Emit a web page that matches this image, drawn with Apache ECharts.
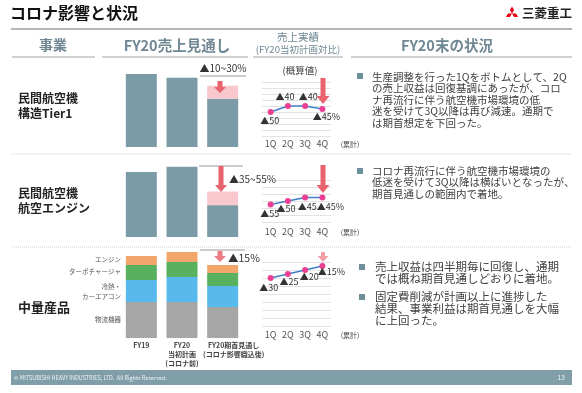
<!DOCTYPE html>
<html><head><meta charset="utf-8">
<script src="https://cdn.jsdelivr.net/npm/echarts@6/dist/echarts.min.js"></script>
<style>html,body{margin:0;padding:0;background:#fff}#c{width:582px;height:393px}</style>
</head><body><div id="c"></div>
<script>
// ---- data ----
const barCategories = ['FY19', 'FY20\n当初計画\n(コロナ前)', 'FY20期首見通し\n(コロナ影響織込後)'];
const tier1Bars = [100, 95, 66];      // index, FY19 = 100 ; FY20 outlook lower bound
const tier1Upper = 84;                // FY20 outlook upper bound
const engineBars = [100, 108, 49];
const engineUpper = 70;
const midLogistics = [36, 36, 31];
const midCooling = [22, 25, 21];
const midTurbo = [15, 15, 13];
const midEngine = [9, 10, 8];
const quarters = ['1Q', '2Q', '3Q', '4Q'];
const tier1Q = [-50, -40, -40, -45];
const engineQ = [-55, -50, -45, -45];
const midQ = [-30, -25, -20, -15];
const rangeTexts = ['▲10~30%', '▲35~55%', '▲15%'];

const F = '"Noto Sans CJK JP", "Noto Sans", sans-serif';
const HEAD = '#6f8793';
const BAR = '#7b9ca6', PINK = '#f8c8ce', RED = '#e9636e';

const chart = echarts.init(document.getElementById('c'), null, {renderer: 'canvas'});

function txt(t, x, y, size, color, opts) {
  opts = opts || {};
  return {type: 'text', silent: true, z: 10, style: {
    text: t, x: x, y: y, fill: color, font: (opts.bold ? 'bold ' : '') + size + 'px ' + F,
    textAlign: opts.align || 'left', align: opts.align || 'left',
    textVerticalAlign: 'middle', verticalAlign: 'middle'}};
}
function hline(x1, x2, y, color, w, dash) {
  return {type: 'line', silent: true, shape: {x1: x1, y1: y, x2: x2, y2: y},
    style: {stroke: color, lineWidth: w || 1, lineDash: dash || null}};
}
function arrow(x, y1, tip, sw, hw, hh, color) {
  const s = y1, b = tip - hh;
  return {type: 'polygon', silent: true, z: 20, shape: {points: [
    [x - sw / 2, s], [x + sw / 2, s], [x + sw / 2, b], [x + hw / 2, b], [x, tip],
    [x - hw / 2, b], [x - sw / 2, b]]}, style: {fill: color}};
}
function rhombus(cx, cy, dx, dy, L, w) {
  const px = -dy, py = dx;
  return {type: 'polygon', silent: true, shape: {points: [
    [cx, cy], [cx + dx * L / 2 + px * w / 2, cy + dy * L / 2 + py * w / 2],
    [cx + dx * L, cy + dy * L], [cx + dx * L / 2 - px * w / 2, cy + dy * L / 2 - py * w / 2]]},
    style: {fill: '#e60012'}};
}

const g = [];
// title
g.push(txt('コロナ影響と状況', 10, 13, 16, '#111', {bold: true}));
g.push(rhombus(512, 13.5, 0, -1, 7, 4.2));
g.push(rhombus(512, 13.5, -0.866, 0.5, 7, 4.2));
g.push(rhombus(512, 13.5, 0.866, 0.5, 7, 4.2));
g.push(txt('三菱重工', 522, 13.5, 12.5, '#222', {bold: true}));
g.push(hline(11, 572, 29, '#b5b5b5', 2));
// headers
g.push(txt('事業', 53, 45, 14, HEAD, {bold: true, align: 'center'}));
g.push(txt('FY20売上見通し', 177, 45, 14.5, HEAD, {bold: true, align: 'center'}));
g.push(txt('売上実績', 298, 37, 10.5, HEAD, {align: 'center'}));
g.push(txt('(FY20当初計画対比)', 298, 49, 9.5, HEAD, {align: 'center'}));
g.push(txt('FY20末の状況', 447, 45, 14.5, HEAD, {bold: true, align: 'center'}));
g.push(hline(12, 95, 57, '#cdd2d5', 2));
g.push(hline(102, 248, 57, '#cdd2d5', 2));
g.push(hline(253, 343, 57, '#cdd2d5', 2));
g.push(hline(351, 572, 57, '#cdd2d5', 2));
// row separators
g.push(hline(12, 572, 154, '#cfcfcf', 1, [1, 1]));
g.push(hline(12, 572, 247, '#cfcfcf', 1, [1, 1]));
// business labels
g.push(txt('民間航空機', 18, 98, 12, '#222', {bold: true}));
g.push(txt('構造Tier1', 18, 113, 12, '#222', {bold: true}));
g.push(txt('民間航空機', 18, 193, 12, '#222', {bold: true}));
g.push(txt('航空エンジン', 18, 208, 12, '#222', {bold: true}));
g.push(txt('中量産品', 18, 307, 13, '#222', {bold: true}));
// stack labels
g.push(txt('エンジン', 121, 260, 6.5, '#555', {align: 'right'}));
g.push(txt('ターボチャージャ', 121, 272, 6.5, '#555', {align: 'right'}));
g.push(txt('冷熱・', 121, 287, 6.5, '#555', {align: 'right'}));
g.push(txt('カーエアコン', 121, 297, 6.5, '#555', {align: 'right'}));
g.push(txt('物流機器', 121, 320, 6.5, '#555', {align: 'right'}));
// range annotations
g.push(hline(200, 246, 76, '#9a9a9a', 1));
g.push(txt(rangeTexts[0], 223, 68, 10, '#333', {align: 'center'}));
g.push(hline(199, 243, 166, '#9a9a9a', 1));
g.push(txt(rangeTexts[1], 229, 179, 10, '#333'));
g.push(hline(200, 245, 250, '#9a9a9a', 1));
g.push(txt(rangeTexts[2], 228, 258, 10.5, '#333'));
g.push(arrow(220, 81, 93, 5, 12, 6, RED));
g.push(arrow(221, 166, 192, 5, 12, 7, RED));
g.push(arrow(220, 251, 262, 5, 12, 6, '#ec7b83'));
g.push(arrow(323, 78, 104, 5, 13, 8, RED));
g.push(arrow(323, 165, 193, 5, 13, 8, RED));
g.push(arrow(323, 252, 262, 4, 11, 6, '#f2a0a6'));
// line chart notes
g.push(txt('(概算値)', 300, 70, 9.5, '#444', {align: 'center'}));
[144, 232, 335].forEach(y => g.push(txt('(累計)', 350, y, 7, '#444', {align: 'center'})));
// right side texts
function bullet(x, y) { return {type: 'rect', silent: true, shape: {x: x, y: y - 3, width: 6, height: 6}, style: {fill: '#6f8f99'}}; }
const r1 = ['生産調整を行った1Qをボトムとして、2Q', 'の売上収益は回復基調にあったが、コロ', 'ナ再流行に伴う航空機市場環境の低', '迷を受けて3Q以降は再び減速。通期で', 'は期首想定を下回った。'];
g.push(bullet(357, 76));
r1.forEach((t, i) => g.push(txt(t, 372, 77 + i * 11.5, 10.5, '#404040')));
const r2 = ['コロナ再流行に伴う航空機市場環境の', '低迷を受けて3Q以降は横ばいとなったが、', '期首見通しの範囲内で着地。'];
g.push(bullet(357, 171));
r2.forEach((t, i) => g.push(txt(t, 372, 171 + i * 11.5, 10.5, '#404040')));
const r3a = ['売上収益は四半期毎に回復し、通期', 'では概ね期首見通しどおりに着地。'];
const r3b = ['固定費削減が計画以上に進捗した', '結果、事業利益は期首見通しを大幅', 'に上回った。'];
g.push(bullet(359, 267));
r3a.forEach((t, i) => g.push(txt(t, 375, 267 + i * 12, 11.5, '#404040')));
g.push(bullet(359, 297));
r3b.forEach((t, i) => g.push(txt(t, 375, 297 + i * 12, 11.5, '#404040')));
// footer
g.push({type: 'rect', silent: true, shape: {x: 11, y: 370, width: 561, height: 15}, style: {fill: '#7f9ea8'}});
g.push(txt('© MITSUBISHI HEAVY INDUSTRIES, LTD.  All Rights Reserved.', 14, 377.5, 5.5, '#eef3f5'));
g.push(txt('13', 565, 377.5, 7, '#eef3f5', {align: 'right'}));

// ---- axes / grids ----
const grids = [
  {left: 121, top: 74, width: 122, height: 73},
  {left: 121, top: 165.5, width: 122, height: 71.5},
  {left: 121, top: 248, width: 122, height: 90},
  {left: 262, top: 82, width: 69, height: 54},
  {left: 262, top: 180, width: 69, height: 42},
  {left: 262, top: 262, width: 69, height: 64}
];
const catPadding = [[0, 0, 0, 0], [0, 0, 0, 0], [0, 0, 0, 22]];
const xAxes = [], yAxes = [];
[0, 1, 2].forEach(i => {
  xAxes.push({gridIndex: i, type: 'category',
    data: barCategories.map((c, j) => ({value: c, textStyle: {padding: catPadding[j]}})),
    axisLine: {show: false}, axisTick: {show: false},
    axisLabel: i === 2 ? {show: true, interval: 0, color: '#444', fontFamily: F, fontSize: 7, fontWeight: 'bold', lineHeight: 9, margin: 3, verticalAlign: 'top'} : {show: false}});
});
const yMax = [100, 110, 90];
[0, 1, 2].forEach(i => yAxes.push({gridIndex: i, type: 'value', min: 0, max: yMax[i], show: false, splitLine: {show: false}}));
const lineMin = [-90, -80, -90], lineMax = [0, -20, -10], lineMargin = [3.5, 5.5, 4.5];
[0, 1, 2].forEach(i => {
  xAxes.push({gridIndex: 3 + i, type: 'category', data: quarters, axisLine: {show: false}, axisTick: {show: false},
    axisLabel: {color: '#555', fontFamily: F, fontSize: 9, margin: lineMargin[i]}});
  yAxes.push({gridIndex: 3 + i, type: 'value', min: lineMin[i], max: lineMax[i], interval: 10,
    axisLine: {show: false}, axisTick: {show: false}, axisLabel: {show: false},
    splitLine: {lineStyle: {color: '#e2e2e2', width: 1}}});
});

const series = [];
function barS(name, idx, data, color, stack) {
  return {name: name, type: 'bar', xAxisIndex: idx, yAxisIndex: idx, data: data, stack: stack, barWidth: 31,
    itemStyle: {color: color}, silent: true, animation: false};
}
series.push(barS('構造Tier1', 0, tier1Bars, BAR, 's0'));
series.push(barS('構造Tier1幅', 0, tier1Bars.map((v, i) => i === 2 ? tier1Upper - v : '-'), PINK, 's0'));
series.push(barS('航空エンジン', 1, engineBars, BAR, 's1'));
series.push(barS('航空エンジン幅', 1, engineBars.map((v, i) => i === 2 ? engineUpper - v : '-'), PINK, 's1'));
series.push(barS('物流機器', 2, midLogistics, '#a6a6a6', 's2'));
series.push(barS('冷熱・カーエアコン', 2, midCooling, '#57b9ec', 's2'));
series.push(barS('ターボチャージャ', 2, midTurbo, '#58b15f', 's2'));
series.push(barS('エンジン', 2, midEngine, '#f3a66b', 's2'));

const labelOffsets = [
  [[-1, 9], [-3, -9], [3, -9], [4, 8]],
  [[-1, 9], [-2, 8], [2, 9], [8, 9]],
  [[-2, 10], [1, 8], [4, 7], [9, 6]]
];
[tier1Q, engineQ, midQ].forEach((arr, k) => {
  series.push({type: 'line', xAxisIndex: 3 + k, yAxisIndex: 3 + k, animation: false, silent: true,
    symbol: 'circle', symbolSize: 6, showAllSymbol: true,
    lineStyle: {color: '#3f80c8', width: 1.5}, itemStyle: {color: '#ec3f93'},
    data: arr.map((v, i) => ({value: v, label: {show: true, position: 'inside', offset: labelOffsets[k][i],
      formatter: '▲' + Math.abs(v) + (i === arr.length - 1 ? '%' : ''), color: '#333', fontSize: 9, fontFamily: F}}))
  });
});

chart.setOption({animation: false, grid: grids, xAxis: xAxes, yAxis: yAxes, series: series, graphic: {elements: g}});
</script></body></html>
